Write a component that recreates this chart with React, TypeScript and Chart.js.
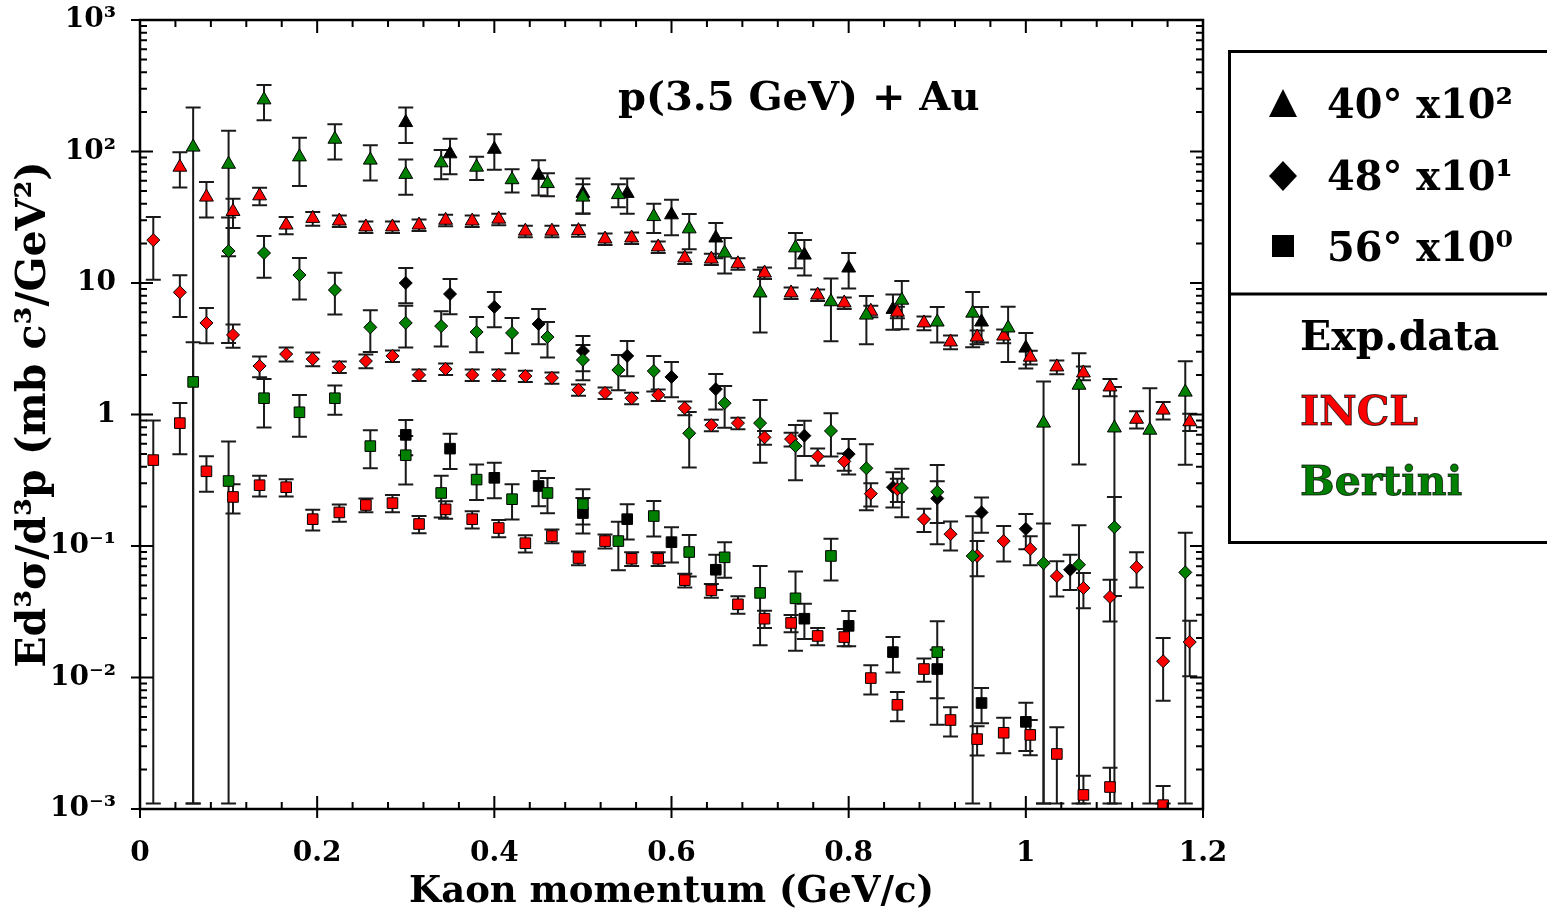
import React, { useEffect, useRef } from "react";
import { Chart, registerables } from "chart.js";
Chart.register(...registerables);

// ---------- data ----------
const xINCL = [0.015, 0.045, 0.075, 0.105, 0.135, 0.165, 0.195, 0.225, 0.255, 0.285, 0.315, 0.345, 0.375, 0.405, 0.435, 0.465, 0.495, 0.525, 0.555, 0.585, 0.615, 0.645, 0.675, 0.705, 0.735, 0.765, 0.795, 0.825, 0.855, 0.885, 0.915, 0.945, 0.975, 1.005, 1.035, 1.065, 1.095, 1.125, 1.155, 1.185];
const xBertini = [0.06, 0.10, 0.14, 0.18, 0.22, 0.26, 0.30, 0.34, 0.38, 0.42, 0.46, 0.50, 0.54, 0.58, 0.62, 0.66, 0.70, 0.74, 0.78, 0.82, 0.86, 0.90, 0.94, 0.98, 1.02, 1.06, 1.10, 1.14, 1.18];
const xExp = [0.30, 0.35, 0.40, 0.45, 0.50, 0.55, 0.60, 0.65, 0.70, 0.75, 0.80, 0.85, 0.90, 0.95, 1.00, 1.05];

// INCL (red)
const incl40 = [null, 76, 45, 35, 46, 27.6, 31, 29.6, 26.7, 26.7, 27.6, 30, 29.6, 30.6, 24.8, 24.8, 25, 21.6, 22, 18.8, 15.5, 15.2, 14, 11.9, 8.4, 8.1, 7.05, 6.1, 6.0, 4.97, 3.56, 3.88, 3.95, 2.73, 2.3, 2.07, 1.62, 0.92, 1.08, 0.88];
const incl40Err = [0, 0.3, 0.3, 0.25, 0.15, 0.15, 0.12, 0.1, 0.1, 0.1, 0.1, 0.1, 0.1, 0.1, 0.1, 0.1, 0.1, 0.1, 0.1, 0.1, 0.1, 0.1, 0.1, 0.1, 0.1, 0.1, 0.1, 0.1, 0.1, 0.12, 0.12, 0.12, 0.12, 0.12, 0.12, 0.12, 0.15, 0.15, 0.15, 0.15];
const incl48 = [21.2, 8.5, 4.97, 4.03, 2.34, 2.88, 2.64, 2.3, 2.55, 2.79, 2.0, 2.22, 2.0, 2.0, 1.96, 1.9, 1.54, 1.46, 1.33, 1.41, 1.12, 0.83, 0.86, 0.67, 0.65, 0.48, 0.44, 0.25, 0.27, 0.16, 0.123, 0.084, 0.109, 0.095, 0.059, 0.048, 0.041, 0.069, 0.0133, 0.0186];
const incl48Err = [0.5, 0.35, 0.3, 0.2, 0.18, 0.12, 0.12, 0.1, 0.12, 0.1, 0.1, 0.1, 0.1, 0.1, 0.1, 0.1, 0.1, 0.1, 0.1, 0.1, 0.12, 0.1, 0.1, 0.12, 0.12, 0.15, 0.15, 0.2, 0.2, 0.2, 0.25, 0.3, 0.3, 0.25, 0.3, 0.3, 0.35, 0.3, 0.5, 0.45];
const incl56 = [0.45, 0.86, 0.37, 0.236, 0.29, 0.28, 0.16, 0.18, 0.205, 0.212, 0.147, 0.19, 0.16, 0.137, 0.105, 0.119, 0.081, 0.109, 0.08, 0.08, 0.055, 0.046, 0.036, 0.028, 0.026, 0.0207, 0.0203, 0.0099, 0.0062, 0.0116, 0.00475, 0.0034, 0.0038, 0.00366, 0.00262, 0.00128, 0.00147, null, 0.00107, null];
const incl56Err = [1.0, 0.42, 0.3, 0.25, 0.18, 0.15, 0.18, 0.15, 0.12, 0.15, 0.15, 0.15, 0.15, 0.15, 0.15, 0.12, 0.12, 0.12, 0.12, 0.12, 0.12, 0.12, 0.15, 0.15, 0.15, 0.15, 0.15, 0.25, 0.25, 0.2, 0.25, 0.25, 0.3, 0.3, 0.6, 0.4, 0.4, 0, 0.4, 0];

// Bertini (green)
const bert40 = [108, 80, 247, 91, 124, 86, 67, 82, 76, 61, 57, 45, 47, 32, 25.8, 16.9, 8.4, 18.5, 7.2, 5.7, 7.4, 5.05, 5.9, 4.55, 0.86, 1.67, 0.79, 0.76, 1.48];
const bert40Err = [1.0, 0.8, 0.3, 0.4, 0.3, 0.3, 0.3, 0.25, 0.2, 0.2, 0.2, 0.25, 0.2, 0.25, 0.3, 0.3, 0.5, 0.3, 0.5, 0.4, 0.4, 0.3, 0.45, 0.45, 1.07, 0.75, 1.05, 1.08, 0.72];
const bert48 = [null, 17.5, 16.9, 11.5, 8.85, 4.6, 4.97, 4.7, 4.24, 4.17, 3.88, 2.6, 2.18, 2.14, 0.72, 1.22, 0.86, 0.575, 0.75, 0.39, 0.276, 0.258, 0.084, null, 0.074, 0.072, 0.139, null, 0.063];
const bert48Err = [0, 0.8, 0.35, 0.35, 0.35, 0.35, 0.35, 0.3, 0.3, 0.3, 0.3, 0.3, 0.3, 0.3, 0.45, 0.35, 0.5, 0.45, 0.36, 0.52, 0.4, 0.6, 1.0, 0, 1.0, 1.0, 0.7, 0, 1.0];
const bert56 = [1.77, 0.312, 1.33, 1.04, 1.33, 0.575, 0.49, 0.253, 0.32, 0.227, 0.253, 0.208, 0.109, 0.169, 0.09, 0.082, 0.044, 0.04, 0.084, null, null, 0.0156, null, null, null, null, null, null, null];
const bert56Err = [1.0, 1.0, 0.4, 0.35, 0.25, 0.32, 0.4, 0.35, 0.3, 0.3, 0.3, 0.3, 0.4, 0.3, 0.35, 0.3, 0.6, 0.6, 0.35, 0, 0, 0.72, 0, 0, 0, 0, 0, 0, 0];

// Experimental data (black)
const exp40 = [166, 96, 104, 66, 48, 48, 33, 22, null, 16.3, 13, 6.3, null, 5.05, 3.2, null];
const exp40Err = [0.3, 0.3, 0.3, 0.3, 0.3, 0.3, 0.3, 0.3, 0, 0.3, 0.3, 0.3, 0, 0.3, 0.3, 0];
const exp48 = [10.0, 8.25, 6.58, 4.88, 3.04, 2.79, 1.93, 1.56, null, 0.69, 0.5, 0.28, 0.23, 0.18, 0.135, 0.066];
const exp48Err = [0.3, 0.3, 0.3, 0.3, 0.3, 0.3, 0.3, 0.3, 0, 0.3, 0.3, 0.3, 0.35, 0.3, 0.3, 0.3];
const exp56 = [0.7, 0.55, 0.33, 0.286, 0.178, 0.16, 0.107, 0.066, null, 0.028, 0.0247, 0.0156, 0.0116, 0.0064, 0.0046, null];
const exp56Err = [0.3, 0.3, 0.3, 0.3, 0.3, 0.3, 0.3, 0.3, 0, 0.3, 0.3, 0.3, 0.4, 0.3, 0.4, 0];

// axes
const xTickValues = [0, 0.2, 0.4, 0.6, 0.8, 1.0, 1.2];
const xTickLabels = ["0", "0.2", "0.4", "0.6", "0.8", "1", "1.2"];
const yTickValues = [1e-3, 1e-2, 1e-1, 1, 10, 1e2, 1e3];
const yTickLabels = ["10⁻³", "10⁻²", "10⁻¹", "1", "10", "10²", "10³"];

const legendAngles = ["40° x10²", "48° x10¹", "56° x10⁰"];
const legendModels = ["Exp.data", "INCL", "Bertini"];

const FONT = '"DejaVu Serif", "Liberation Serif", serif';
const RED = "#ff0000";
const GREEN = "#008000";
const BLACK = "#000000";

function pts(xs: number[], ys: (number | null)[], es: number[]) {
  const out: { x: number; y: number; e: number }[] = [];
  xs.forEach((x, i) => {
    const y = ys[i];
    if (y !== null && y !== undefined) out.push({ x, y, e: es[i] || 0 });
  });
  return out;
}

function ds(label: string, data: any[], style: string, radius: number, color: string, order: number) {
  return {
    label,
    data,
    pointStyle: style,
    pointRadius: radius,
    pointHoverRadius: radius,
    backgroundColor: color,
    borderColor: BLACK,
    pointBorderColor: BLACK,
    pointBackgroundColor: color,
    pointBorderWidth: 1,
    showLine: false,
    order,
  };
}

const errorBarPlugin = {
  id: "errorBars",
  beforeDatasetsDraw(chart: any) {
    const { ctx, chartArea } = chart;
    const yScale = chart.scales.y;
    const floor = 1.1e-3;
    ctx.save();
    ctx.beginPath();
    ctx.rect(chartArea.left, chartArea.top, chartArea.right - chartArea.left, chartArea.bottom - chartArea.top);
    ctx.clip();
    ctx.strokeStyle = "#1a1a1a";
    ctx.lineWidth = 2;
    chart.data.datasets.forEach((d: any, di: number) => {
      const meta = chart.getDatasetMeta(di);
      d.data.forEach((p: any, i: number) => {
        if (!p.e) return;
        const el = meta.data[i];
        if (!el) return;
        const hi = p.y * (1 + p.e);
        let lo = p.y * (1 - p.e);
        if (lo < floor) lo = floor;
        const yh = yScale.getPixelForValue(hi);
        const yl = yScale.getPixelForValue(lo);
        const x = el.x;
        const cap = 7.5;
        ctx.beginPath();
        ctx.moveTo(x, yh);
        ctx.lineTo(x, yl);
        ctx.moveTo(x - cap, yh);
        ctx.lineTo(x + cap, yh);
        ctx.moveTo(x - cap, yl);
        ctx.lineTo(x + cap, yl);
        ctx.stroke();
      });
    });
    ctx.restore();
  },
};

const framePlugin = {
  id: "frameTicks",
  afterDatasetsDraw(chart: any) {
    const { ctx, chartArea } = chart;
    const { left, right, top, bottom } = chartArea;
    const xs = chart.scales.x;
    const ys = chart.scales.y;
    ctx.save();
    ctx.strokeStyle = BLACK;
    ctx.lineWidth = 2;
    ctx.beginPath();
    yTickValues.forEach((v) => {
      const py = ys.getPixelForValue(v);
      ctx.moveTo(left - 9, py);
      ctx.lineTo(left + 13, py);
      ctx.moveTo(right - 13, py);
      ctx.lineTo(right, py);
    });
    for (let n = -3; n <= 2; n++) {
      for (let m = 2; m <= 9; m++) {
        const py = ys.getPixelForValue(m * Math.pow(10, n));
        ctx.moveTo(left, py);
        ctx.lineTo(left + 7, py);
        ctx.moveTo(right - 7, py);
        ctx.lineTo(right, py);
      }
    }
    xTickValues.forEach((v) => {
      const px = xs.getPixelForValue(v);
      ctx.moveTo(px, bottom + 9);
      ctx.lineTo(px, bottom - 13);
      ctx.moveTo(px, top);
      ctx.lineTo(px, top + 13);
    });
    for (let k = 1; k < 30; k++) {
      if (k % 5 === 0) continue;
      const px = xs.getPixelForValue(k * 0.04);
      ctx.moveTo(px, bottom);
      ctx.lineTo(px, bottom - 7);
      ctx.moveTo(px, top);
      ctx.lineTo(px, top + 7);
    }
    ctx.stroke();
    ctx.lineWidth = 2.5;
    ctx.strokeRect(left, top, right - left, bottom - top);
    ctx.restore();
  },
};

function drawSymbol(ctx: CanvasRenderingContext2D, kind: string, cx: number, cy: number) {
  ctx.beginPath();
  if (kind === "triangle") {
    ctx.moveTo(cx, cy - 15);
    ctx.lineTo(cx + 14, cy + 13);
    ctx.lineTo(cx - 14, cy + 13);
    ctx.closePath();
  } else if (kind === "diamond") {
    ctx.moveTo(cx, cy - 15);
    ctx.lineTo(cx + 14, cy);
    ctx.lineTo(cx, cy + 15);
    ctx.lineTo(cx - 14, cy);
    ctx.closePath();
  } else {
    ctx.rect(cx - 11, cy - 11, 22, 22);
  }
  ctx.fillStyle = BLACK;
  ctx.fill();
}

const legendPlugin = {
  id: "customLegend",
  afterDraw(chart: any) {
    const ctx: CanvasRenderingContext2D = chart.ctx;
    ctx.save();
    // title inside plot
    ctx.fillStyle = BLACK;
    ctx.font = `bold 40px ${FONT}`;
    ctx.textBaseline = "alphabetic";
    ctx.textAlign = "left";
    ctx.fillText("p(3.5 GeV) + Au", 618, 110, 396);

    // legend box
    ctx.strokeStyle = BLACK;
    ctx.lineWidth = 3;
    ctx.strokeRect(1229.5, 51.5, 360, 491);
    ctx.beginPath();
    ctx.moveTo(1229, 294);
    ctx.lineTo(1547, 294);
    ctx.stroke();

    const kinds = ["triangle", "diamond", "square"];
    const symY = [104, 176, 246];
    const textY = [118, 190, 261];
    kinds.forEach((k, i) => drawSymbol(ctx, k, 1283, symY[i]));
    ctx.font = `bold 41px ${FONT}`;
    ctx.fillStyle = BLACK;
    legendAngles.forEach((t, i) => ctx.fillText(t, 1327, textY[i], 186));

    const modelY = [350, 425, 495];
    const modelColor = [BLACK, RED, GREEN];
    const modelW = [213, 128, 175];
    legendModels.forEach((t, i) => {
      ctx.fillStyle = modelColor[i];
      ctx.fillText(t, 1300, modelY[i], modelW[i]);
      if (i > 0) {
        ctx.lineWidth = 1;
        ctx.strokeStyle = "rgba(0,0,0,0.7)";
        ctx.strokeText(t, 1300, modelY[i], modelW[i]);
      }
    });
    ctx.restore();
  },
};

export default function App() {
  const ref = useRef<HTMLCanvasElement | null>(null);
  useEffect(() => {
    if (!ref.current) return;
    const chart = new Chart(ref.current, {
      type: "scatter",
      data: {
        datasets: [
          ds("Bertini 40", pts(xBertini, bert40, bert40Err), "triangle", 8, GREEN, 1),
          ds("Bertini 48", pts(xBertini, bert48, bert48Err), "rectRot", 6.5, GREEN, 1),
          ds("Bertini 56", pts(xBertini, bert56, bert56Err), "rect", 7.5, GREEN, 1),
          ds("INCL 40", pts(xINCL, incl40, incl40Err), "triangle", 8, RED, 2),
          ds("INCL 48", pts(xINCL, incl48, incl48Err), "rectRot", 6.5, RED, 2),
          ds("INCL 56", pts(xINCL, incl56, incl56Err), "rect", 7.5, RED, 2),
          ds("Exp 40", pts(xExp, exp40, exp40Err), "triangle", 8, BLACK, 3),
          ds("Exp 48", pts(xExp, exp48, exp48Err), "rectRot", 6.5, BLACK, 3),
          ds("Exp 56", pts(xExp, exp56, exp56Err), "rect", 7.5, BLACK, 3),
        ] as any,
      },
      options: {
        responsive: false,
        animation: false,
        devicePixelRatio: 1,
        layout: { padding: { left: 0, top: 20, right: 344, bottom: 0 } },
        plugins: {
          legend: { display: false },
          tooltip: { enabled: false },
          title: { display: false },
        },
        scales: {
          x: {
            type: "linear",
            min: 0,
            max: 1.2,
            afterBuildTicks: (s: any) => {
              s.ticks = xTickValues.map((v) => ({ value: v }));
            },
            afterFit: (s: any) => {
              s.height = 107;
              s.paddingLeft = 0;
              s.paddingRight = 0;
            },
            grid: { display: false },
            border: { display: false },
            ticks: {
              callback: (_v: any, i: number) => xTickLabels[i],
              font: { family: FONT, weight: "bold", size: 28 },
              color: BLACK,
              padding: 20,
              maxRotation: 0,
              autoSkip: false,
            },
            title: {
              display: true,
              text: "Kaon momentum (GeV/c)",
              color: BLACK,
              font: { family: FONT, weight: "bold", size: 37 },
              padding: { top: 0, bottom: 1 },
            },
          },
          y: {
            type: "logarithmic",
            min: 1e-3,
            max: 1e3,
            afterBuildTicks: (s: any) => {
              s.ticks = yTickValues.map((v) => ({ value: v }));
            },
            afterFit: (s: any) => {
              s.width = 140;
              s.paddingTop = 0;
              s.paddingBottom = 0;
            },
            grid: { display: false },
            border: { display: false },
            ticks: {
              callback: (_v: any, i: number) => yTickLabels[i],
              font: { family: FONT, weight: "bold", size: 28 },
              color: BLACK,
              padding: 16,
              autoSkip: false,
            },
            title: {
              display: true,
              text: "Ed³σ/d³p (mb c³/GeV²)",
              color: BLACK,
              font: { family: FONT, weight: "bold", size: 41 },
              padding: { top: 10, bottom: 0 },
            },
          },
        },
      } as any,
      plugins: [errorBarPlugin, framePlugin, legendPlugin],
    });
    return () => chart.destroy();
  }, []);

  return (
    <div style={{ position: "absolute", left: 0, top: 0, width: 1547, height: 916, background: "#fff" }}>
      <canvas ref={ref} width={1547} height={916} style={{ display: "block" }} />
    </div>
  );
}
